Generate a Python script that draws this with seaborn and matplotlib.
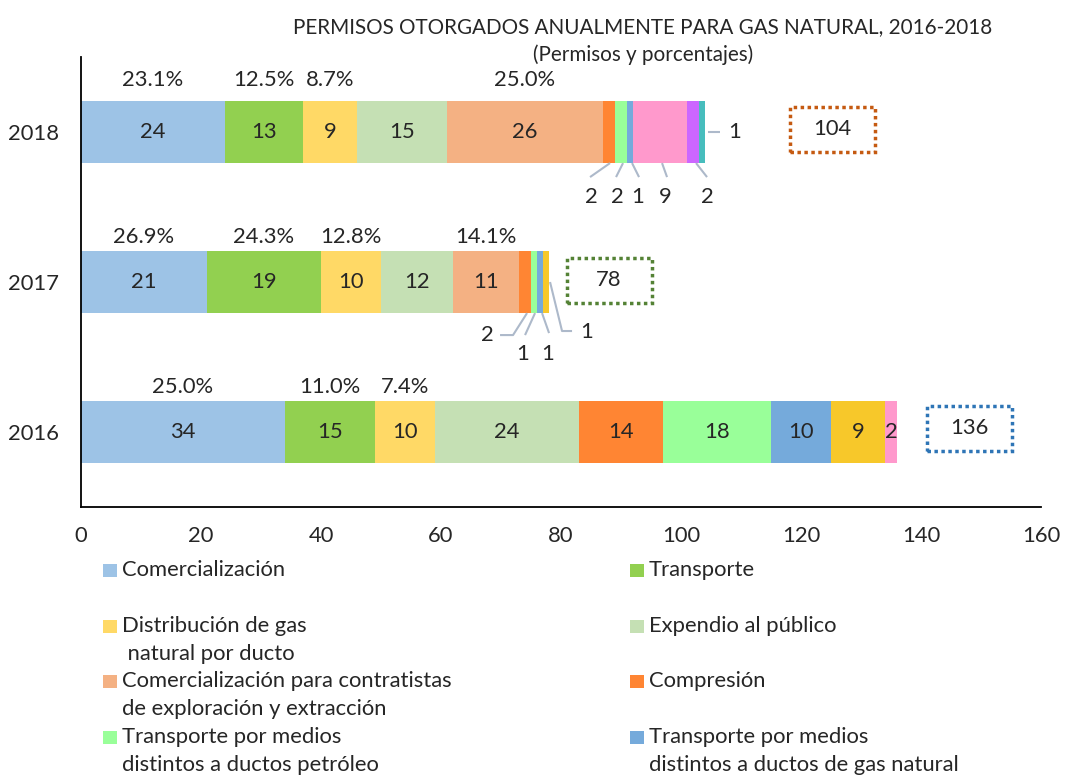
import numpy as np
import pandas as pd
import seaborn as sns
import matplotlib.pyplot as plt
from matplotlib.patches import Rectangle

sns.set_style("white")
plt.rcParams['font.family'] = ['Lato', 'DejaVu Sans']
FS = 15.8
plt.rcParams['font.size'] = FS

years = ['2016', '2017', '2018']
categories = ['Comercialización', 'Transporte', 'Distribución de gas natural por ducto',
              'Expendio al público', 'Comercialización para contratistas de exploración y extracción',
              'Compresión', 'Transporte por medios distintos a ductos petróleo',
              'Transporte por medios distintos a ductos de gas natural',
              'Almacenamiento', 'Descompresión', 'Licuefacción', 'Regasificación']
colors = ['#9DC3E6', '#92D050', '#FFD966', '#C5E0B4', '#F4B183', '#FF8533',
          '#99FF99', '#75AADB', '#F7C82A', '#FF99CC', '#CC66FF', '#47BDBD']

# permits per category, order: 2016, 2017, 2018
comercializacion = [34, 21, 24]
transporte = [15, 19, 13]
distribucion = [10, 10, 9]
expendio = [24, 12, 15]
comerc_contratistas = [0, 11, 26]
compresion = [14, 2, 2]
tm_petroleo = [18, 1, 2]
tm_gas = [10, 1, 1]
almacenamiento = [9, 1, 0]
descompresion = [2, 0, 9]
licuefaccion = [0, 0, 2]
regasificacion = [0, 0, 1]

# percentages shown above bars (cat 0, 1, 2, 4)
pct_2016 = [25.0, 11.0, 7.4, np.nan, np.nan]
pct_2017 = [26.9, 24.3, 12.8, np.nan, 14.1]
pct_2018 = [23.1, 12.5, 8.7, np.nan, 25.0]

series = [comercializacion, transporte, distribucion, expendio, comerc_contratistas, compresion,
          tm_petroleo, tm_gas, almacenamiento, descompresion, licuefaccion, regasificacion]
vals = np.array(series)  # cat x year
totals = vals.sum(axis=0)
ends = vals.cumsum(axis=0)
starts = ends - vals

df = pd.DataFrame([(y, c, vals[i, j]) for i, c in enumerate(categories) for j, y in enumerate(years)],
                  columns=['year', 'category', 'value'])

W, H = 1065, 775
fig = plt.figure(figsize=(W / 100, H / 100), dpi=100)
ax = fig.add_axes([0.0761, 0.3458, 0.9014, 0.5806])
sns.histplot(data=df, y='year', weights='value', hue='category', hue_order=categories[::-1],
             palette=dict(zip(categories, colors)), multiple='stack', discrete=True,
             shrink=0.41, alpha=1, linewidth=0, legend=False, ax=ax)

ax.set_xlim(0, 160)
ax.set_ylim(-0.5, 2.5)
ax.set_xticks(range(0, 161, 20))
ax.set_yticks([0, 1, 2])
ax.set_yticklabels(years)
ax.set_yticks([0.5, 1.5, 2.5], minor=True)
ax.set_xlabel('')
ax.set_ylabel('')
ax.tick_params(axis='x', length=0, pad=14, labelsize=FS)
ax.tick_params(axis='y', which='major', length=0, pad=16, labelsize=FS)
ax.tick_params(axis='y', which='minor', length=5, direction='in', width=1.3, color='black')
sns.despine(ax=ax)
for s in ['left', 'bottom']:
    ax.spines[s].set_color('black')
    ax.spines[s].set_linewidth(1.3)

xpx, ypx = 6.0, 150.0   # pixels per data unit
half = 0.207
line_col = '#ADB9CA'

# callouts: (year idx, cat idx, anchor, path offsets in px, label offset in px)
callouts = [
    (2, 5, 'bottom', [(1, 0), (-19, 14)], (-18, 34)),
    (2, 6, 'bottom', [(2, 0), (-5, 14)], (-4, 34)),
    (2, 7, 'bottom', [(2, 0), (9, 14)], (8, 34)),
    (2, 9, 'bottom', [(2, 0), (7, 14)], (5, 34)),
    (2, 10, 'bottom', [(3, 0), (14, 14)], (14, 34)),
    (2, 11, 'right', [(3, 0), (15, 0)], (30, 0)),
    (1, 5, 'bottom', [(2, 0), (-12, 22), (-25, 22)], (-38, 22)),
    (1, 6, 'bottom', [(1, 0), (-9, 22)], (-11, 41)),
    (1, 7, 'bottom', [(2, 0), (9, 20)], (8, 41)),
    (1, 8, 'right', [(1, 0), (13, 49), (23, 49)], (38, 50)),
]
called = {(r, c) for r, c, *_ in callouts}

# values inside bars
for i in range(len(categories)):
    for j in range(len(years)):
        if vals[i, j] > 0 and (j, i) not in called:
            ax.text(starts[i, j] + vals[i, j] / 2, j, str(vals[i, j]), ha='center', va='center')

for j, c, anchor, path, lab in callouts:
    if anchor == 'bottom':
        x0, y0 = starts[c, j] + vals[c, j] / 2, j - half
    else:
        x0, y0 = ends[c, j], j
    xs = [x0 + dx / xpx for dx, dy in path]
    ys = [y0 - dy / ypx for dx, dy in path]
    ax.plot(xs, ys, color=line_col, lw=1.5, solid_capstyle='butt')
    ax.text(x0 + lab[0] / xpx, y0 - lab[1] / ypx, str(vals[c, j]), ha='center', va='center')

# percentages above bars
pct_rows = [pct_2016, pct_2017, pct_2018]
pct_off = [0.30, 0.30, 0.347]
for j, row in enumerate(pct_rows):
    for i, p in enumerate(row):
        if not np.isnan(p):
            ax.text(starts[i, j] + vals[i, j] / 2, j + pct_off[j], f'{p:.1f}%', ha='center', va='center')

# total boxes
box_cols = ['#2E75B6', '#548235', '#C55A11']
box_dx = [72, 60, 127]
box_dy = [4, 2, 3]
bw, bh = 85 / xpx, 45 / ypx
for j in range(len(years)):
    cx = totals[j] + box_dx[j] / xpx
    cy = j + box_dy[j] / ypx
    ax.add_patch(Rectangle((cx - bw / 2, cy - bh / 2), bw, bh, fill=False, ec=box_cols[j],
                           lw=2.5, ls=(0, (1, 1)), clip_on=False))
    ax.text(cx, cy, str(totals[j]), ha='center', va='center')

fig.text(643 / W, 1 - 27 / H, 'PERMISOS OTORGADOS ANUALMENTE PARA GAS NATURAL, 2016-2018',
         ha='center', va='center', fontsize=14.9)
fig.text(643 / W, 1 - 55 / H, '(Permisos y porcentajes)', ha='center', va='center', fontsize=14.9)

# legend, two columns, first line aligned with the swatch
legend_left = [(0, ['Comercialización']),
               (2, ['Distribución de gas', ' natural por ducto']),
               (4, ['Comercialización para contratistas', 'de exploración y extracción']),
               (6, ['Transporte por medios', 'distintos a ductos petróleo'])]
legend_right = [(1, ['Transporte']),
                (3, ['Expendio al público']),
                (5, ['Compresión']),
                (7, ['Transporte por medios', 'distintos a ductos de gas natural'])]
row_y = [570, 626, 681, 737]
for col_x, entries in [(103, legend_left), (630, legend_right)]:
    for (k, lines), y in zip(entries, row_y):
        fig.add_artist(Rectangle((col_x / W, 1 - (y + 7) / H), 14 / W, 13 / H,
                                 transform=fig.transFigure, fc=colors[k], ec='none'))
        for n, line in enumerate(lines):
            fig.text((col_x + 19) / W, 1 - (y + 28 * n) / H, line, ha='left', va='center', fontsize=FS)

fig.savefig('out.png', dpi=100)
